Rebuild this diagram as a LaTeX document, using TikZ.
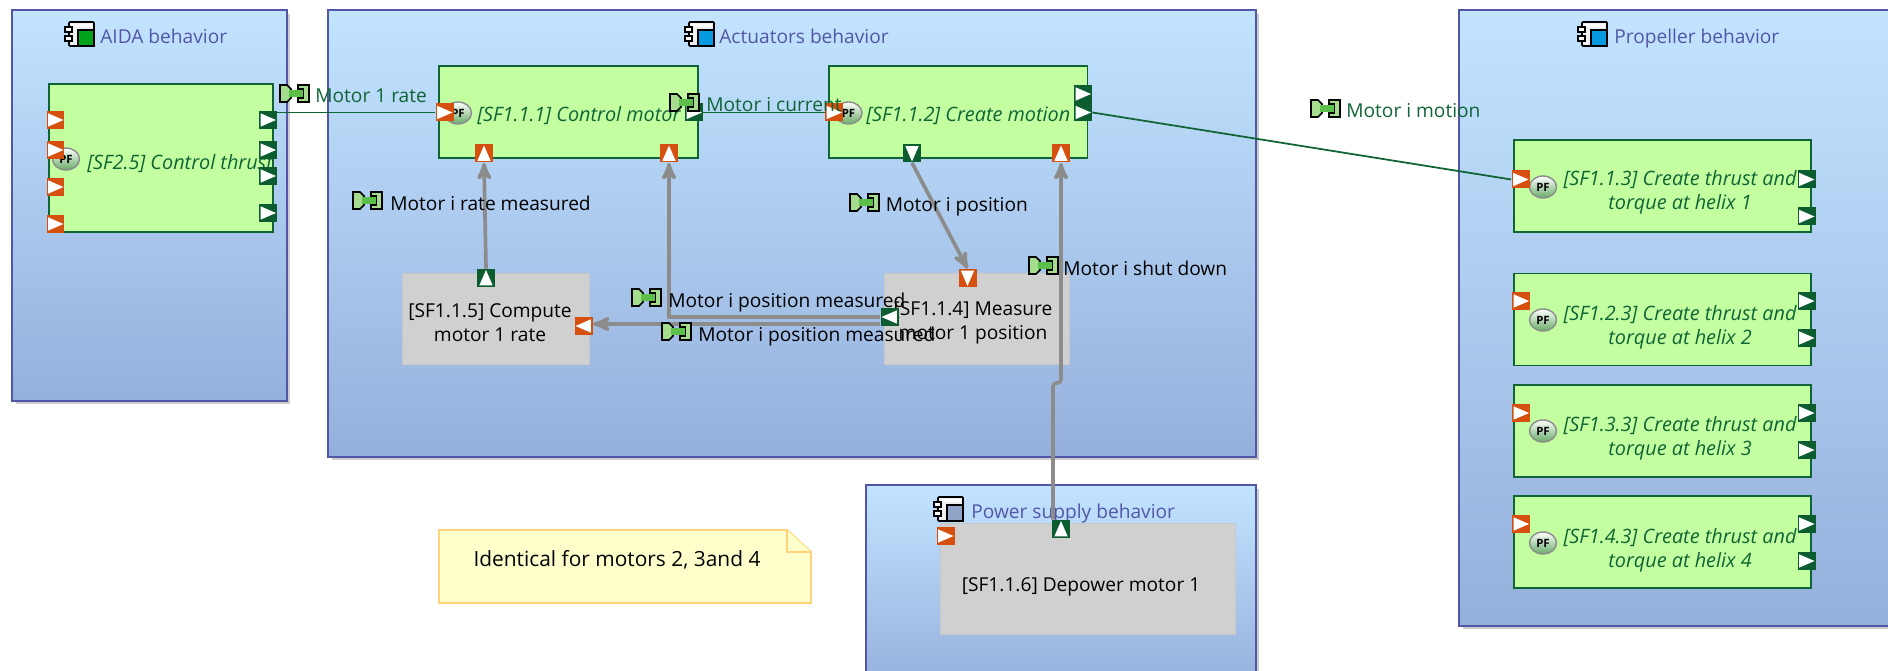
\documentclass[tikz,border=0pt]{standalone}
\usepackage{fontspec}
\setmainfont{Open Sans}
\usetikzlibrary{arrows,positioning,shapes,shadows}
\definecolor{blocktop}{HTML}{C2E4FF}
\definecolor{blockbot}{HTML}{95AFDC}
\definecolor{blockline}{HTML}{5356A6}
\definecolor{funcfill}{HTML}{C3FFA0}
\definecolor{funcline}{HTML}{0F6535}
\definecolor{portin}{HTML}{D5500F}
\definecolor{portout}{HTML}{0B5C2F}
\definecolor{greyfill}{HTML}{D0D0D0}
\definecolor{flowgrey}{HTML}{8C8C8C}
\definecolor{notefill}{HTML}{FFFFCC}
\definecolor{noteline}{HTML}{FFD37A}
\definecolor{itemlight}{HTML}{A5DC8E}
\definecolor{itemmid}{HTML}{5CBF4A}
\tikzset{
    %Define standard arrow tip
    >=stealth',
    %Define style for boxes
    blockbox/.style={
           rectangle,
           draw=blockline, line width=1.2pt,
           top color=blocktop, bottom color=blockbot,
           drop shadow={shadow xshift=.07cm, shadow yshift=-.07cm, opacity=.2, fill=black}},
    funcbox/.style={
           rectangle,
           draw=funcline, line width=1.1pt,
           fill=funcfill,
           minimum height=1.84cm},
    greybox/.style={
           rectangle,
           draw=black!22, fill=greyfill,
           minimum height=1.82cm},
    notebox/.style={
           draw=noteline, line width=1.1pt,
           fill=notefill},
    % Define port styles
    flowport/.style={
           rectangle, inner sep=0pt,
           minimum size=.36cm,
           path picture={\fill[white]
               ([shift={(#1:.16cm)}]path picture bounding box.center)
               -- ([shift={(#1+138:.2cm)}]path picture bounding box.center)
               -- ([shift={(#1-138:.2cm)}]path picture bounding box.center) -- cycle;}},
    inport/.style={flowport=#1, fill=portin},
    outport/.style={flowport=#1, fill=portout},
    pficon/.style={
           ellipse, inner sep=0pt,
           draw=black!45, thick,
           minimum width=.54cm, minimum height=.44cm,
           top color=white, bottom color=green!45!black!60,
           font=\fontsize{6.5}{7}\selectfont\bfseries},
    % Define text styles
    blocktitle/.style={anchor=base west, inner sep=0pt, text=blockline},
    functext/.style={text=funcline, font=\funcsize\itshape, align=center, inner sep=0pt},
    greytext/.style={align=center, inner sep=0pt},
    itemtext/.style={anchor=base west, inner sep=0pt},
    % Define arrow style
    flowline/.style={draw=funcline, line width=1pt},
    greyarr/.style={->, draw=flowgrey, line width=2.1pt},
    % Define icons
    compicon/.pic={
        \draw[black, line width=.9pt, fill=black!6, rounded corners=.5pt] (4,0) rectangle (29,24);
        \fill[white] (6,2) rectangle (27,5);
        \draw[black, line width=.8pt, fill=white] (0,5) rectangle (7,10);
        \draw[black, line width=.8pt, fill=white] (0,14) rectangle (7,19);
        \draw[black, line width=.8pt, fill=#1] (13,8) rectangle (29,24);
    },
    itemicon/.pic={
        \draw[black, line width=.9pt, fill=itemlight] (0,0) -- (7,0) -- (11,4) -- (11,13) -- (7,17) -- (0,17) -- cycle;
        \draw[black, line width=.9pt, fill=itemlight] (18,0) -- (29,0) -- (29,17) -- (18,17) -- (18,13) -- (23,13) -- (23,4) -- (18,4) -- cycle;
        \fill[itemmid] (9,5) rectangle (23,12);
    }
}
\newcommand{\mainsize}{\fontsize{10.9}{13.6}\selectfont}
\newcommand{\funcsize}{\fontsize{11.3}{13.6}\selectfont}

\begin{document}
\begin{tikzpicture}[x=.02cm, y=-.02cm, font=\mainsize]
    \useasboundingbox (0,0) rectangle (1888,671);
    \clip (0,0) rectangle (1888,671);

    % BLOCKS
    \node[blockbox, minimum width=5.5cm, minimum height=7.82cm] at (149.5,205.5) (aida) {};
    \node[blockbox, minimum width=18.56cm, minimum height=8.94cm] at (792,233.5) (actuators) {};
    \node[blockbox, minimum width=9.02cm, minimum height=12.32cm] at (1684.5,318) (propeller) {};
    \node[blockbox, minimum width=7.8cm, minimum height=4.1cm] at (1061,587.5) (power) {};

    \pic at (65,22) {compicon=green!60!black!90!cyan};
    \node[blocktitle] at (100,44) (aidaTitle) {AIDA behavior};
    \pic at (685,22) {compicon=cyan!85!blue};
    \node[blocktitle] at (719,44) (actuatorsTitle) {Actuators behavior};
    \pic at (1578,22) {compicon=cyan!85!blue};
    \node[blocktitle] at (1614,44) (propellerTitle) {Propeller behavior};
    \pic at (934,497) {compicon=blockbot!80!gray};
    \node[blocktitle] at (971,519) (powerTitle) {Power supply behavior};

    % FUNCTIONS
    \node[funcbox, minimum width=4.48cm, minimum height=2.96cm] at (161,158) (thrust) {};
    \node[funcbox, minimum width=5.18cm] at (568.5,112) (control) {};
    \node[funcbox, minimum width=5.18cm] at (958,112) (motion) {};
    \node[funcbox, minimum width=5.94cm] at (1662.5,186) (helixA) {};
    \node[funcbox, minimum width=5.94cm] at (1662.5,319.5) (helixB) {};
    \node[funcbox, minimum width=5.94cm] at (1662.5,431) (helixC) {};
    \node[funcbox, minimum width=5.94cm] at (1662.5,542) (helixD) {};

    \node[greybox, minimum width=3.74cm] at (495.5,318.5) (rate) {};
    \node[greybox, minimum width=3.69cm] at (977,318.5) (position) {};
    \node[greybox, minimum width=5.89cm, minimum height=2.22cm] at (1088,578.5) (depower) {};
    \node[greytext] at (490,323) (rateText) {[SF1.1.5] Compute\\motor 1 rate};
    \node[greytext] at (973,323) (positionText) {[SF1.1.4] Measure\\motor 1 position};
    \node[greytext, anchor=base] at (1081,591) (depowerText) {[SF1.1.6] Depower motor 1};

    \node[pficon] at (66,159) (pfThrust) {PF};
    \node[pficon] at (458,113) (pfControl) {PF};
    \node[pficon] at (848.5,113) (pfMotion) {PF};
    \node[pficon] at (1543,187) (pfHelixA) {PF};
    \node[pficon] at (1543,320) (pfHelixB) {PF};
    \node[pficon] at (1543,431) (pfHelixC) {PF};
    \node[pficon] at (1543,543) (pfHelixD) {PF};

    \node[functext, anchor=base west] at (87,170) (thrustText) {[SF2.5] Control thrust};
    \node[functext, anchor=base west] at (477,122) (controlText) {[SF1.1.1] Control motor};
    \node[functext, anchor=base west] at (866,122) (motionText) {[SF1.1.2] Create motion};
    \node[functext] at (1680,192.5) (helixAText) {[SF1.1.3] Create thrust and\\torque at helix 1};
    \node[functext] at (1680,327) (helixBText) {[SF1.2.3] Create thrust and\\torque at helix 2};
    \node[functext] at (1680,438) (helixCText) {[SF1.3.3] Create thrust and\\torque at helix 3};
    \node[functext] at (1680,550) (helixDText) {[SF1.4.3] Create thrust and\\torque at helix 4};

    % PORTS
    \node[inport=0] at (55.5,120) (thrustInA) {};
    \node[inport=0] at (55.5,150) (thrustInB) {};
    \node[inport=0] at (55.5,187) (thrustInC) {};
    \node[inport=0] at (55.5,224) (thrustInD) {};
    \node[outport=0] at (268,120) (thrustOutA) {};
    \node[outport=0] at (268,150) (thrustOutB) {};
    \node[outport=0] at (268,176) (thrustOutC) {};
    \node[outport=0] at (268,213) (thrustOutD) {};

    \node[inport=0] at (444.5,112.5) (controlIn) {};
    \node[inport=90] at (484,153.5) (controlRate) {};
    \node[inport=90] at (669,153.5) (controlPos) {};
    \node[outport=0] at (694,112.5) (controlOut) {};

    \node[inport=0] at (834,112.5) (motionIn) {};
    \node[outport=0] at (1083,94) (motionOutA) {};
    \node[outport=0] at (1083,112.5) (motionOutB) {};
    \node[outport=-90] at (912,153.5) (motionPos) {};
    \node[inport=90] at (1061,153.5) (motionShut) {};

    \node[outport=90] at (486,278) (rateOut) {};
    \node[inport=180] at (583.5,326) (rateIn) {};
    \node[inport=-90] at (967.5,278) (positionIn) {};
    \node[outport=180] at (889.5,317) (positionOut) {};

    \node[outport=90] at (1061,529) (depowerOut) {};
    \node[inport=0] at (945.5,536) (depowerIn) {};

    \node[inport=0] at (1520.5,179.5) (helixAIn) {};
    \node[outport=0] at (1806.5,179.5) (helixAOutA) {};
    \node[outport=0] at (1806.5,216.5) (helixAOutB) {};
    \node[inport=0] at (1521,301) (helixBIn) {};
    \node[outport=0] at (1806.5,301) (helixBOutA) {};
    \node[outport=0] at (1806.5,338) (helixBOutB) {};
    \node[inport=0] at (1521,413) (helixCIn) {};
    \node[outport=0] at (1806.5,413) (helixCOutA) {};
    \node[outport=0] at (1806.5,450) (helixCOutB) {};
    \node[inport=0] at (1521,524) (helixDIn) {};
    \node[outport=0] at (1806.5,524) (helixDOutA) {};
    \node[outport=0] at (1806.5,561) (helixDOutB) {};

    % FLOWS
    \draw[flowline] (thrustOutA.east |- controlIn.west) -- (controlIn.west);
    \draw[flowline] (controlOut.east) -- (motionIn.west);
    \draw[flowline] (motionOutB.east) -- (helixAIn.west);

    \coordinate (splitPos) at (880,324);
    \coordinate (shutBend) at (1061,383);
    \draw[greyarr] (rateOut.north) -- (controlRate.south);
    \draw[greyarr] (positionOut.west) -- (positionOut.west -| controlPos) -- (controlPos.south);
    \draw[greyarr] (splitPos) -- (splitPos -| rateIn.east);
    \draw[greyarr] (motionPos.south) -- (positionIn.north);
    \draw[greyarr, rounded corners=2pt] ([xshift=-.16cm]depowerOut.north) |- (shutBend) -- (motionShut.south);

    % EXCHANGE ITEMS
    \pic at (280,85) {itemicon};
    \node[itemtext, text=funcline] at (315,103) (itemRate) {Motor 1 rate};
    \pic at (353,192) {itemicon};
    \node[itemtext] at (390,211) (itemRateMeas) {Motor i rate measured};
    \pic at (670,94) {itemicon};
    \node[itemtext, text=funcline] at (706,112) (itemCurrent) {Motor i current};
    \pic at (1311,100) {itemicon};
    \node[itemtext, text=funcline] at (1346,118) (itemMotion) {Motor i motion};
    \pic at (850,194) {itemicon};
    \node[itemtext] at (885.5,212) (itemPosition) {Motor i position};
    \pic at (1029,257) {itemicon};
    \node[itemtext] at (1063,276) (itemShut) {Motor i shut down};
    \pic at (632,289) {itemicon};
    \node[itemtext] at (668,308) (itemPosMeasA) {Motor i position measured};
    \pic at (662,323) {itemicon};
    \node[itemtext] at (698,342) (itemPosMeasB) {Motor i position measured};

    % NOTE
    \draw[notebox] (439,530) -- (787,530) -- (811,552) -- (811,603) -- (439,603) -- cycle;
    \draw[notebox] (787,530) -- (787,552) -- (811,552);
    \node[inner sep=0pt, anchor=base, font=\fontsize{11.9}{14}\selectfont] at (617,566) (note) {Identical for motors 2, 3and 4};
\end{tikzpicture}
\end{document}
